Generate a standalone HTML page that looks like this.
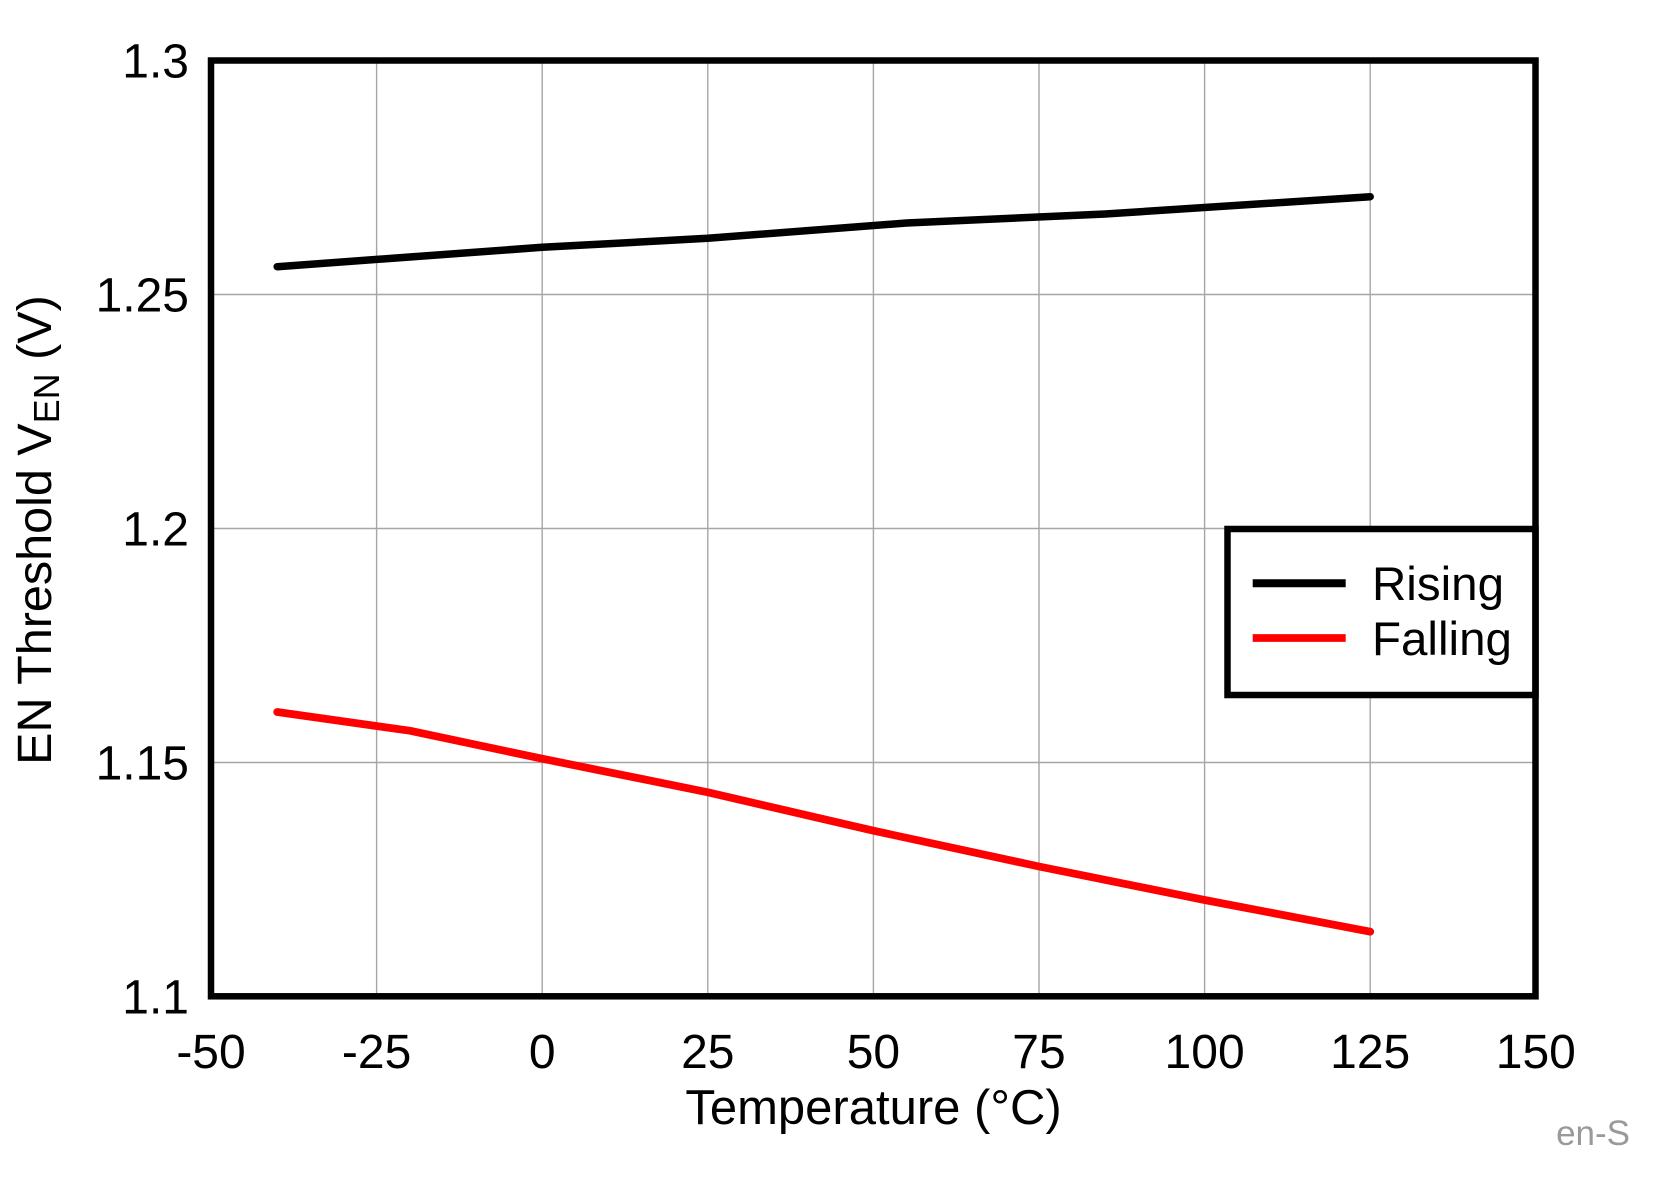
<!DOCTYPE html>
<html>
<head>
<meta charset="utf-8">
<style>
  html,body{margin:0;padding:0;background:#fff;}
  svg{display:block;}
  text{font-family:"Liberation Sans", Arial, sans-serif;fill:#000;}
</style>
</head>
<body>
<svg width="1659" height="1194" viewBox="0 0 1659 1194" xmlns="http://www.w3.org/2000/svg">
  <rect x="0" y="0" width="1659" height="1194" fill="#fff"/>
  <!-- gridlines -->
  <g stroke="#a6a6a6" stroke-width="1.4" fill="none">
    <line x1="376.6" y1="60" x2="376.6" y2="997"/>
    <line x1="542.2" y1="60" x2="542.2" y2="997"/>
    <line x1="707.8" y1="60" x2="707.8" y2="997"/>
    <line x1="873.4" y1="60" x2="873.4" y2="997"/>
    <line x1="1039" y1="60" x2="1039" y2="997"/>
    <line x1="1204.6" y1="60" x2="1204.6" y2="997"/>
    <line x1="1370.2" y1="60" x2="1370.2" y2="997"/>
    <line x1="211" y1="294.5" x2="1536" y2="294.5"/>
    <line x1="211" y1="528.5" x2="1536" y2="528.5"/>
    <line x1="211" y1="762.5" x2="1536" y2="762.5"/>
  </g>
  <!-- series -->
  <polyline fill="none" stroke="#000" stroke-width="7.5" stroke-linecap="round" stroke-linejoin="round"
    points="277.2,266.7 409.7,257 542.2,247.3 707.8,238.3 906.5,223 1105.2,214 1370.2,196.7"/>
  <polyline fill="none" stroke="#ff0000" stroke-width="7.8" stroke-linecap="round" stroke-linejoin="round"
    points="277.2,712 409.7,730.7 542.2,758.7 707.8,792.3 873.4,830.7 1039,866.5 1204.6,900 1370.2,931.7"/>
  <!-- legend -->
  <rect x="1227.5" y="529" width="308" height="166" fill="#fff" stroke="#000" stroke-width="6.5"/>
  <line x1="1252.7" y1="583.3" x2="1345.7" y2="583.3" stroke="#000" stroke-width="8"/>
  <line x1="1252.7" y1="638" x2="1345.7" y2="638" stroke="#ff0000" stroke-width="7.7"/>
  <text x="1372" y="600" font-size="47.5">Rising</text>
  <text x="1372" y="655" font-size="47.5">Falling</text>
  <!-- plot border -->
  <rect x="211" y="60.5" width="1324.5" height="935.8" fill="none" stroke="#000" stroke-width="6.5"/>
  <!-- y tick labels -->
  <g font-size="48" text-anchor="end">
    <text x="189" y="77.5">1.3</text>
    <text x="189" y="311.5">1.25</text>
    <text x="189" y="545.5">1.2</text>
    <text x="189" y="779.5">1.15</text>
    <text x="189" y="1013.5">1.1</text>
  </g>
  <!-- x tick labels -->
  <g font-size="48" text-anchor="middle">
    <text x="211" y="1068">-50</text>
    <text x="376.6" y="1068">-25</text>
    <text x="542.2" y="1068">0</text>
    <text x="707.8" y="1068">25</text>
    <text x="873.4" y="1068">50</text>
    <text x="1039" y="1068">75</text>
    <text x="1204.6" y="1068">100</text>
    <text x="1370.2" y="1068">125</text>
    <text x="1535.8" y="1068">150</text>
  </g>
  <!-- axis titles -->
  <text x="873.5" y="1124" font-size="49" text-anchor="middle">Temperature (°C)</text>
  <text transform="translate(51,530) rotate(-90)" font-size="48.5" text-anchor="middle">EN Threshold V<tspan font-size="36" dy="8">EN</tspan><tspan dy="-8"> (V)</tspan></text>
  <!-- watermark -->
  <text x="1630" y="1145" font-size="35" text-anchor="end" style="fill:#9a9a9a">en-S</text>
</svg>
</body>
</html>
